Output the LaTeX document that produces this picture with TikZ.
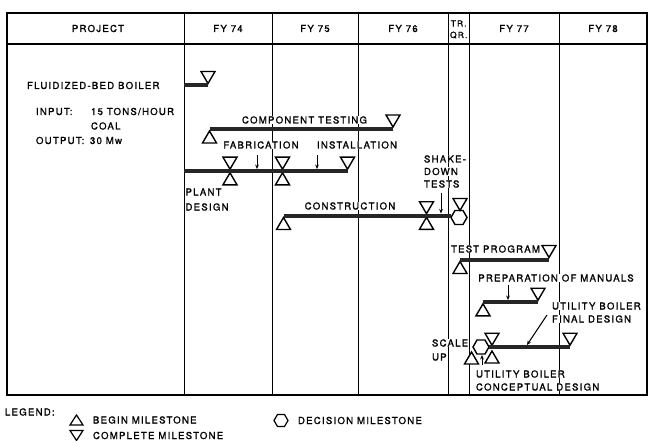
\documentclass[tikz,border=0pt]{standalone}
\usepackage{fontspec}
\newfontfamily\lblfont{TeX Gyre Heros}[LetterSpace=13,FakeBold=1.3]
\usetikzlibrary{arrows.meta}
\newcommand\msdown[2]{\draw[ms] (#1,#2) -- ++(-7,-12) -- ++(14,0) -- cycle;}
\newcommand\msup[2]{\draw[ms] (#1,#2) -- ++(-7,12) -- ++(14,0) -- cycle;}
\newcommand\mshex[2]{\draw[ms] (#1,#2) ++(-8,0) -- ++(4,-7) -- ++(8,0) -- ++(4,7) -- ++(-4,7) -- ++(-8,0) -- cycle;}
\begin{document}
\begin{tikzpicture}[x=1pt,y=-1pt,
  frame/.style={line width=1.2pt},
  gridline/.style={line width=0.9pt},
  txt/.style={font=\lblfont\fontsize{9.6}{10}\selectfont, inner sep=0.8pt, text height=7pt, text depth=0pt},
  lab/.style={txt, fill=white, anchor=west},
  clab/.style={txt, fill=white, anchor=center},
  hd/.style={txt, anchor=center},
  ms/.style={line width=1.4pt, fill=white, line join=miter},
  bar/.style={line width=4pt, draw=black!85},
  arr/.style={line width=1pt, -{Stealth[length=4.5pt,width=3.8pt]}}]
\useasboundingbox (0,0) rectangle (648,441);
\fill[white] (0,0) rectangle (648,441);
% frame and grid
\draw[frame] (7,13) rectangle (647,395);
\draw[frame] (7,44) -- (647,44);
\foreach \x in {184,272,358,448,469.5,559} \draw[gridline] (\x,13) -- (\x,395);
% header
\node[hd] (hproj) at (98,28.5) {PROJECT};
\node[hd] (h74) at (228,28.5) {FY 74};
\node[hd] (h75) at (315,28.5) {FY 75};
\node[hd] (h76) at (403,28.5) {FY 76};
\node[hd, font=\lblfont\fontsize{8.5}{9}\selectfont] (htr) at (458.7,23) {TR.};
\node[hd, font=\lblfont\fontsize{8.5}{9}\selectfont] (hqr) at (458.7,34.5) {QR.};
\node[hd] (h77) at (514,28.5) {FY 77};
\node[hd] (h78) at (603,28.5) {FY 78};
% project description
\node[lab] (fbb) at (26,85.5) {FLUIDIZED-BED BOILER};
\node[lab] (inp) at (35,111.5) {INPUT:};
\node[lab] (inv) at (90,111.5) {15 TONS/HOUR};
\node[lab] (coal) at (90,126) {COAL};
\node[lab] (outp) at (35,140.5) {OUTPUT:};
\node[lab] (outv) at (89,140.5) {30 Mw};
% activity labels
\node[clab] (ct) at (304.5,120) {COMPONENT TESTING};
\node[clab] (fab) at (261,145) {FABRICATION};
\node[clab] (inst) at (357,145) {INSTALLATION};
\node[lab] (pl1) at (184.5,192) {PLANT};
\node[lab] (pl2) at (184.5,207) {DESIGN};
\node[clab] (cons) at (350,206) {CONSTRUCTION};
\node[lab] (sd1) at (423,159) {SHAKE-};
\node[lab] (sd2) at (423,171.5) {DOWN};
\node[lab] (sd3) at (423,184) {TESTS};
\node[clab] (tp) at (495.5,249) {TEST PROGRAM};
\node[clab] (pm) at (556,278) {PREPARATION OF MANUALS};
\node[lab] (fd1) at (551,306) {UTILITY BOILER};
\node[lab] (fd2) at (551,319) {FINAL DESIGN};
\node[lab] (su1) at (431,343) {SCALE};
\node[lab] (su2) at (431,357) {UP};
\node[lab] (cd1) at (475,374) {UTILITY BOILER};
\node[lab] (cd2) at (475,387) {CONCEPTUAL DESIGN};
% milestones
\msdown{208}{83.5}
\msup{209.5}{131}
\msdown{393}{127}
\msdown{230}{169.2}
\msup{230}{172.8}
\msdown{282.5}{169.2}
\msup{282.5}{172.8}
\msdown{347.5}{169.2}
\msup{283.5}{217.5}
\msdown{426.5}{213.7}
\msup{426.5}{217.3}
\mshex{459}{217.5}
\msdown{460}{210.5}
\msup{460}{261.5}
\msdown{549}{257.5}
\msdown{538}{300.2}
\msup{483}{303.8}
\msup{471.5}{352}
\mshex{481}{347}
\msdown{492}{345.2}
\msup{492}{351}
\msdown{570}{345.2}
% bars
\draw[bar] (184,85.3) -- (208,85.3);
\draw[bar] (209.5,129) -- (393,129);
\draw[bar] (184,171) -- (347.5,171);
\draw[bar] (283.5,215.5) -- (451,215.5);
\draw[bar] (460,259.5) -- (549,259.5);
\draw[bar] (483,302) -- (538,302);
\draw[bar] (489,347) -- (570,347);
% arrows
\coordinate (a1s) at (257,155); \coordinate (a1e) at (257,169);
\coordinate (a2s) at (317,155); \coordinate (a2e) at (317,169);
\coordinate (a3s) at (441,193); \coordinate (a3e) at (441,213.5);
\coordinate (a4s) at (508,285); \coordinate (a4e) at (508,300);
\coordinate (a5s) at (547,315); \coordinate (a5e) at (527,345);
\coordinate (a6s) at (482,365); \coordinate (a6e) at (482,355);
\draw[arr] (a1s) -- (a1e);
\draw[arr] (a2s) -- (a2e);
\draw[arr] (a3s) -- (a3e);
\draw[arr] (a4s) -- (a4e);
\draw[arr] (a5s) -- (a5e);
\draw[arr] (a6s) -- (a6e);
% legend
\node[txt, anchor=west] (leg) at (4,412) {LEGEND:};
\begin{scope}[ms/.append style={line width=1.2pt}]
\draw[ms] (76.5,415) -- ++(-6.5,10) -- ++(13,0) -- cycle;
\draw[ms] (76.5,440.5) -- ++(-6.5,-10) -- ++(13,0) -- cycle;
\draw[ms] (281,420.5) ++(-7,0) -- ++(3.5,-6) -- ++(7,0) -- ++(3.5,6) -- ++(-3.5,6) -- ++(-7,0) -- cycle;
\end{scope}
\node[txt, anchor=west] (lb) at (92,420) {BEGIN MILESTONE};
\node[txt, anchor=west] (lc) at (92,435.5) {COMPLETE MILESTONE};
\node[txt, anchor=west] (ld) at (297,420.5) {DECISION MILESTONE};
\end{tikzpicture}
\end{document}
